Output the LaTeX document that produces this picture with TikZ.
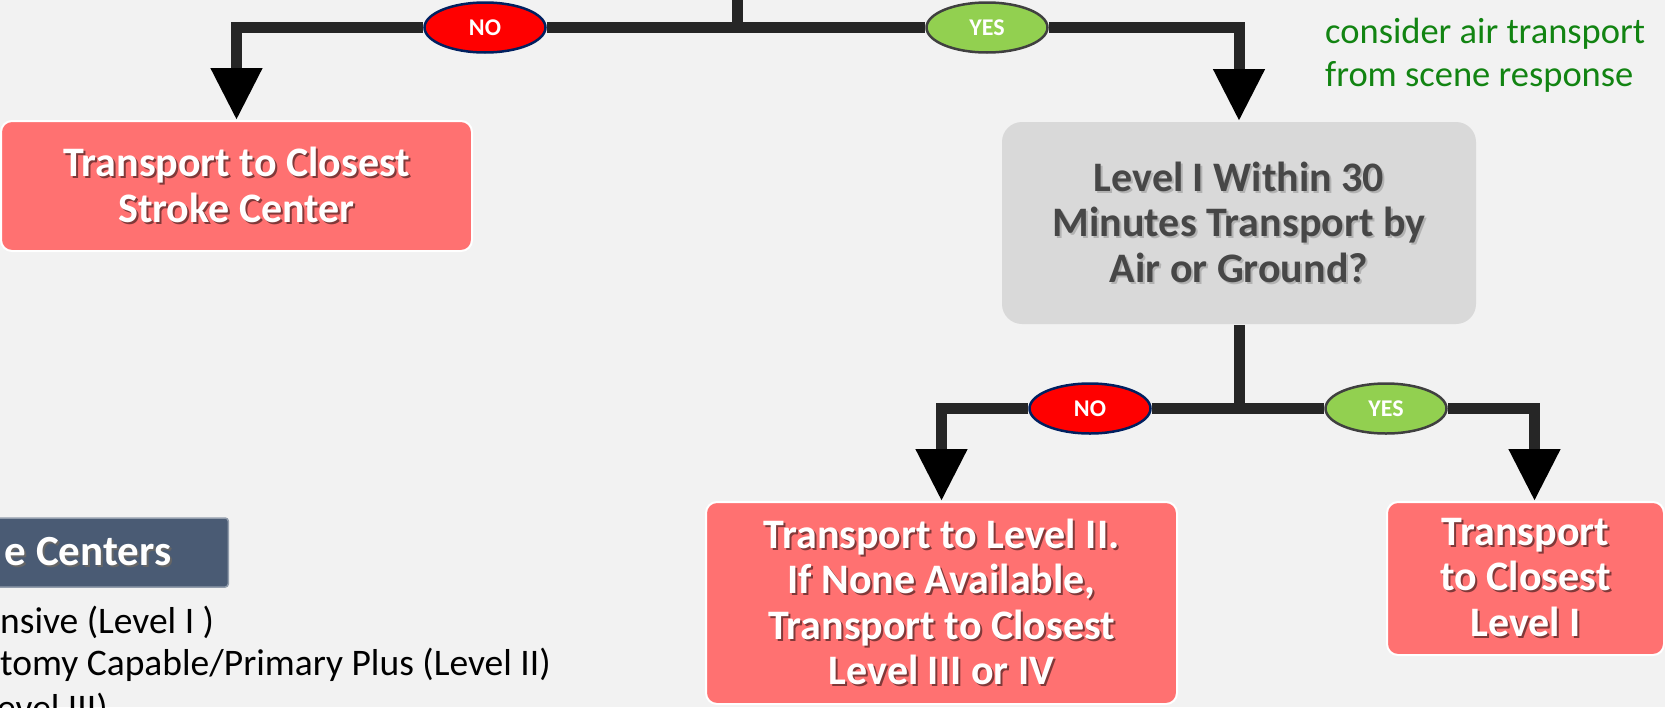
\documentclass[tikz,border=0pt]{standalone}
\usepackage{fontspec}
\setmainfont{Carlito}
\usetikzlibrary{shapes.geometric, arrows.meta, positioning}

\definecolor{pagebg}{HTML}{F2F2F2}
\definecolor{linec}{HTML}{262626}
\definecolor{boxred}{HTML}{FF7171}
\definecolor{boxgray}{HTML}{D9D9D9}
\definecolor{textgray}{HTML}{474747}
\definecolor{nored}{HTML}{FF0000}
\definecolor{nonavy}{HTML}{002060}
\definecolor{yesgreen}{HTML}{92D050}
\definecolor{yesedge}{HTML}{404040}
\definecolor{notegreen}{HTML}{128412}
\definecolor{legendc}{HTML}{4A5B74}
\colorlet{shadowc}{black!40}

\newcommand{\txtshadow}[1]{\makebox[0pt][l]{\hspace{2pt}\raisebox{-2pt}{\color{shadowc}#1}}#1}

\begin{document}
\begin{tikzpicture}[
  x=1pt, y=-1pt,
  bar/.style={line width=11pt, draw=linec, line join=miter},
  flow/.style={bar, -{Triangle[width=49pt, length=52pt, color=black]}},
  redbox/.style={rectangle, rounded corners=11pt, draw=white, line width=2pt, fill=boxred, text=white, align=center,
    font=\bfseries\fontsize{42}{45.5}\selectfont, execute at begin node=\colorlet{shadowc}{boxred!50!black}},
  graybox/.style={redbox, draw=none, fill=boxgray, text=textgray, rounded corners=20pt,
    execute at begin node=\colorlet{shadowc}{black!30}},
  nolabel/.style={ellipse, fill=nored, draw=nonavy, line width=2.5pt, minimum width=121pt, minimum height=50pt,
    inner sep=0pt, text=white, font=\bfseries\fontsize{24}{24}\selectfont},
  yeslabel/.style={nolabel, fill=yesgreen, draw=yesedge},
  note/.style={inner sep=0pt, text=notegreen, align=left, font=\fontsize{36.5}{43}\selectfont},
  legendbox/.style={rectangle, rounded corners=3pt, fill=legendc, draw=legendc!60!white, line width=1.5pt,
    text=white, font=\bfseries\fontsize{43}{45}\selectfont, execute at begin node=\colorlet{shadowc}{black!60}},
  legendtext/.style={inner sep=0pt, text=black, font=\fontsize{37.5}{42}\selectfont}
]
\useasboundingbox (0,0) rectangle (1665,707);
\clip (0,0) rectangle (1665,707);
\fill[pagebg] (0,0) rectangle (1665,707);

% Boxes
\node[redbox, minimum width=471pt, minimum height=130pt] (stroke) at (236.5,186)
  {\txtshadow{Transport to Closest}\\\txtshadow{Stroke Center}};
\node[graybox, minimum width=474pt, minimum height=202pt] (ask) at (1239,223)
  {\txtshadow{Level I Within 30}\\\txtshadow{Minutes Transport by}\\\txtshadow{Air or Ground?}};
\node[redbox, minimum width=471pt, minimum height=202pt] (lvl2) at (941.5,603)
  {\txtshadow{Transport to Level II.}\\\txtshadow{If None Available,}\\\txtshadow{Transport to Closest}\\\txtshadow{Level III or IV}};
\node[redbox, minimum width=277pt, minimum height=153pt] (closest) at (1525.5,578.5)
  {\txtshadow{Transport}\\\txtshadow{to Closest}\\\txtshadow{Level I}};

% Yes / No labels
\node[nolabel] (no1) at (485,27.5) {NO};
\node[yeslabel] (yes1) at (987,27.5) {YES};
\node[nolabel] (no2) at (1090,408.5) {NO};
\node[yeslabel] (yes2) at (1386,408.5) {YES};

% Note and legend
\node[note, anchor=north west] (airnote) at (1325,18) {consider air transport\\from scene response};
\node[legendbox, anchor=east, minimum height=69pt, inner xsep=57pt] (legend) at (229,552.5)
  {\txtshadow{e Centers}};
\node[legendtext, anchor=base west] (lvlone) at (0,633) {nsive (Level I )};
\node[legendtext, anchor=base west] (lvltwo) at (0,675) {tomy Capable/Primary Plus (Level II)};
\node[legendtext, anchor=base west] (lvlthree) at (-3,720) {evel III)};

% Connectors
\coordinate (top) at (737,-15);
\coordinate (split1) at (737,27.5);
\coordinate (split2) at (ask.south |- no2);
\draw[bar] (top) -- (split1);
\draw[bar] (no1) -- (yes1);
\draw[flow] (no1) -| (stroke);
\draw[flow] (yes1) -| (ask);
\draw[bar] (ask) -- (split2);
\draw[bar] (no2) -- (yes2);
\draw[flow] (no2) -| (lvl2);
\draw[flow] (yes2) -| ([xshift=9pt]closest.north);

\end{tikzpicture}
\end{document}
